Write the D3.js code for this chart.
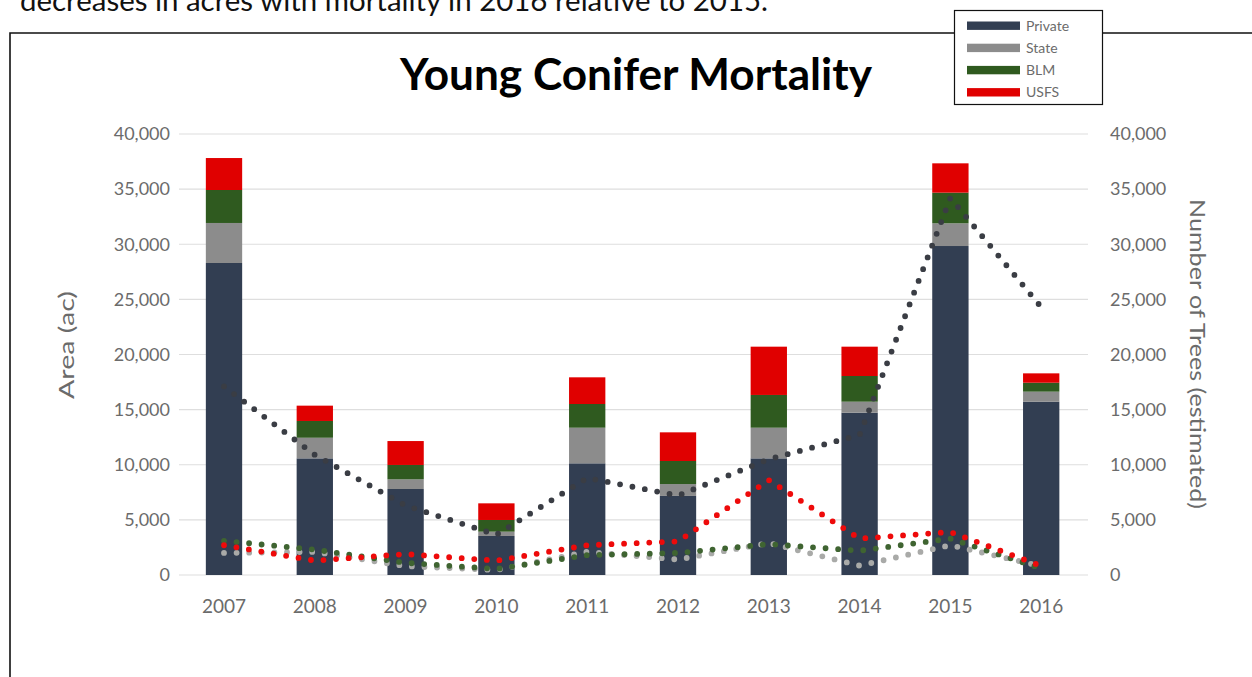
<!DOCTYPE html>
<html>
<head>
<meta charset="utf-8">
<script src="https://cdnjs.cloudflare.com/ajax/libs/d3/7.8.5/d3.min.js"></script>
<style>
  html, body { margin: 0; padding: 0; background: #fff; }
  svg { display: block; font-family: Lato, "Open Sans", sans-serif; }
</style>
</head>
<body>
<svg id="chart" width="1252" height="677"></svg>
<script>
// Years on the category axis
const years = ["2007", "2008", "2009", "2010", "2011", "2012", "2013", "2014", "2015", "2016"];

// Area with mortality (acres), stacked bars by ownership
const areaPrivate = [28300, 10580, 7800, 3540, 10130, 7170, 10580, 14720, 29840, 15720];
const areaState   = [3630, 1870, 880, 390, 3230, 1080, 2780, 1000, 2060, 910];
const areaBLM     = [2990, 1520, 1300, 1060, 2150, 2090, 2970, 2330, 2780, 810];
const areaUSFS    = [2900, 1390, 2170, 1510, 2420, 2600, 4380, 2660, 2660, 850];

// Estimated number of dead trees, dotted lines on the secondary axis
const treesPrivate = [17100, 10900, 6300, 3650, 8800, 7200, 10500, 12700, 34200, 24300];
const treesState   = [2000, 2100, 800, 450, 2100, 1400, 2900, 850, 2700, 800];
const treesBLM     = [3100, 2300, 1100, 550, 1800, 2000, 2800, 2200, 3300, 600];
const treesUSFS    = [2700, 1300, 1900, 1300, 2700, 3050, 8600, 3300, 3900, 820];

// Axis ticks
const yTicks = [0, 5000, 10000, 15000, 20000, 25000, 30000, 35000, 40000];

const ownerNames = ["Private", "State", "BLM", "USFS"];
const barColors  = ["#323e52", "#8c8c8c", "#2f5a1f", "#e00000"];
const lineColors = ["#3a3d44", "#a9aaa8", "#3f6431", "#ee0a0a"];

const svg = d3.select("#chart");

// Sentence from the surrounding document, running off the top edge
svg.append("text")
  .attr("x", 20).attr("y", 11)
  .attr("font-size", 28)
  .attr("fill", "#111")
  .attr("textLength", 748)
  .attr("lengthAdjust", "spacingAndGlyphs")
  .text("decreases in acres with mortality in 2016 relative to 2015.");

// Chart frame
svg.append("path")
  .attr("d", "M10,677 V33 H1252")
  .attr("fill", "none")
  .attr("stroke", "#111")
  .attr("stroke-width", 1.6);

const x = d3.scaleBand()
  .domain(years)
  .range([178.6, 1086.6])
  .paddingInner(0.6)
  .paddingOuter(0.3);

const y = d3.scaleLinear().domain([0, 40000]).range([575, 134]);
const y2 = d3.scaleLinear().domain([0, 40000]).range([575, 134]);

// Gridlines
svg.append("g")
  .selectAll("line")
  .data(yTicks)
  .join("line")
  .attr("x1", 179).attr("x2", 1088)
  .attr("y1", d => y(d)).attr("y2", d => y(d))
  .attr("stroke", "#dedede")
  .attr("stroke-width", 1.2);

// Left axis
const fmt = d3.format(",");
const leftAxis = svg.append("g")
  .attr("transform", "translate(172,0)")
  .call(d3.axisLeft(y).tickValues(yTicks).tickFormat(fmt).tickSize(0).tickPadding(2));
leftAxis.select(".domain").remove();
leftAxis.selectAll("text")
  .attr("font-family", "Lato, sans-serif")
  .attr("font-size", 18)
  .attr("fill", "#6b6b6b");

// Right axis
const rightAxis = svg.append("g")
  .attr("transform", "translate(1108,0)")
  .call(d3.axisRight(y2).tickValues(yTicks).tickFormat(fmt).tickSize(0).tickPadding(2));
rightAxis.select(".domain").remove();
rightAxis.selectAll("text")
  .attr("font-family", "Lato, sans-serif")
  .attr("font-size", 18)
  .attr("fill", "#6b6b6b");

// Bottom axis
const bottomAxis = svg.append("g")
  .attr("transform", "translate(0,594)")
  .call(d3.axisBottom(x).tickSize(0).tickPadding(6));
bottomAxis.select(".domain").remove();
bottomAxis.selectAll("text")
  .attr("font-family", "Lato, sans-serif")
  .attr("font-size", 19)
  .attr("fill", "#6b6b6b");

// Axis titles
svg.append("text")
  .attr("transform", "translate(74,345) rotate(-90)")
  .attr("text-anchor", "middle")
  .attr("font-size", 22)
  .attr("fill", "#6b6b6b")
  .attr("textLength", 108)
  .attr("lengthAdjust", "spacingAndGlyphs")
  .text("Area (ac)");

svg.append("text")
  .attr("transform", "translate(1190,354) rotate(90)")
  .attr("text-anchor", "middle")
  .attr("font-size", 22)
  .attr("fill", "#6b6b6b")
  .attr("textLength", 310)
  .attr("lengthAdjust", "spacingAndGlyphs")
  .text("Number of Trees (estimated)");

// Title
svg.append("text")
  .attr("x", 636).attr("y", 90)
  .attr("text-anchor", "middle")
  .attr("font-size", 44)
  .attr("font-weight", "bold")
  .attr("fill", "#000")
  .attr("textLength", 472)
  .attr("lengthAdjust", "spacingAndGlyphs")
  .text("Young Conifer Mortality");

// Stacked bars
const rows = years.map((yr, i) => ({
  year: yr,
  Private: areaPrivate[i], State: areaState[i], BLM: areaBLM[i], USFS: areaUSFS[i]
}));
const stacked = d3.stack().keys(ownerNames)(rows);

svg.append("g")
  .selectAll("g")
  .data(stacked)
  .join("g")
  .attr("fill", (d, i) => barColors[i])
  .selectAll("rect")
  .data(d => d)
  .join("rect")
  .attr("x", d => x(d.data.year))
  .attr("width", x.bandwidth())
  .attr("y", d => y(d[1]))
  .attr("height", d => y(d[0]) - y(d[1]));

// Dotted tree-count lines
const treeSeries = [treesPrivate, treesState, treesBLM, treesUSFS];
const line = d3.line()
  .x((d, i) => x(years[i]) + x.bandwidth() / 2)
  .y(d => y2(d));

svg.append("g")
  .selectAll("path")
  .data(treeSeries)
  .join("path")
  .attr("d", d => line(d))
  .attr("fill", "none")
  .attr("stroke", (d, i) => lineColors[i])
  .attr("stroke-width", 5.8)
  .attr("stroke-linecap", "round")
  .attr("stroke-linejoin", "round")
  .attr("stroke-dasharray", "0 12.6");

// Legend
const legend = svg.append("g");
legend.append("rect")
  .attr("x", 954.5).attr("y", 10.5)
  .attr("width", 148).attr("height", 94)
  .attr("fill", "#fff")
  .attr("stroke", "#111")
  .attr("stroke-width", 1.2);

const items = legend.selectAll("g.item")
  .data(ownerNames)
  .join("g")
  .attr("class", "item")
  .attr("transform", (d, i) => `translate(0,${25.7 + i * 22.2})`);

items.append("rect")
  .attr("x", 967).attr("y", -4.2)
  .attr("width", 53).attr("height", 8.4)
  .attr("fill", (d, i) => barColors[i]);

items.append("text")
  .attr("x", 1026).attr("y", 4.8)
  .attr("font-size", 14)
  .attr("fill", "#6b6b6b")
  .text(d => d);
</script>
</body>
</html>
